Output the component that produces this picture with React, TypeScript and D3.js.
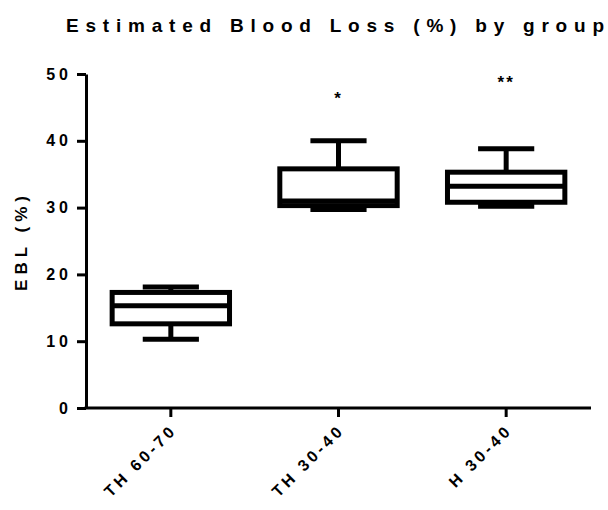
import React, { useRef, useEffect } from 'react';
import * as d3 from 'd3';

const groups = ['TH 60-70', 'TH 30-40', 'H 30-40'];
const mins = [10.3, 29.7, 30.2];
const q1s = [12.6, 30.3, 30.8];
const medians = [15.3, 31.0, 33.2];
const q3s = [17.3, 35.8, 35.3];
const maxs = [18.1, 40.0, 38.8];
const stars = ['', '*', '**'];
const starLevels = [0, 45.5, 47.9];
const yTicks = [0, 10, 20, 30, 40, 50];

const FONT = '"Liberation Sans", Arial, sans-serif';

const BoxChart = () => {
  const ref = useRef<SVGSVGElement | null>(null);

  useEffect(() => {
    if (!ref.current) return;
    const svg = d3.select(ref.current);
    svg.selectAll('*').remove();

    const x = d3.scalePoint<string>().domain(groups).range([87, 590]).padding(0.5);
    const y = d3.scaleLinear().domain([0, 50]).range([408, 74]);
    const step = x.step();
    const boxW = step * 0.7;
    const capW = step * 0.335;

    const rows = groups.map((g, i) => ({
      g, min: mins[i], q1: q1s[i], med: medians[i], q3: q3s[i], max: maxs[i], star: stars[i], sl: starLevels[i]
    }));

    // title
    svg.append('text')
      .attr('x', 66)
      .attr('y', 32)
      .attr('font-family', FONT)
      .attr('font-weight', 'bold')
      .attr('font-size', 19)
      .attr('textLength', 538)
      .attr('lengthAdjust', 'spacing')
      .text('Estimated Blood Loss (%) by group');

    // y axis
    const yAxis = svg.append('g')
      .attr('transform', 'translate(86,0)')
      .call(d3.axisLeft(y).tickValues(yTicks).tickSize(9).tickPadding(5).tickSizeOuter(0));
    yAxis.select('.domain').attr('stroke', '#000').attr('stroke-width', 3);
    yAxis.selectAll('.tick line').attr('stroke', '#000').attr('stroke-width', 3);
    yAxis.selectAll('.tick text')
      .attr('font-family', FONT)
      .attr('font-weight', 'bold')
      .attr('font-size', 16)
      .attr('letter-spacing', 4)
      .attr('fill', '#000');

    svg.append('text')
      .attr('transform', 'translate(27,241) rotate(-90)')
      .attr('text-anchor', 'middle')
      .attr('font-family', FONT)
      .attr('font-weight', 'bold')
      .attr('font-size', 17)
      .attr('letter-spacing', 5)
      .text('EBL (%)');

    // x axis
    svg.append('line')
      .attr('x1', 84.5).attr('x2', 591)
      .attr('y1', 408).attr('y2', 408)
      .attr('stroke', '#000').attr('stroke-width', 3);
    svg.selectAll('.xtick')
      .data(groups)
      .join('line')
      .attr('x1', d => x(d)!).attr('x2', d => x(d)!)
      .attr('y1', 408).attr('y2', 417)
      .attr('stroke', '#000').attr('stroke-width', 3);
    svg.selectAll('.xlabel')
      .data(groups)
      .join('text')
      .attr('transform', d => `translate(${x(d)! + 7},${431}) rotate(-45)`)
      .attr('text-anchor', 'end')
      .attr('font-family', FONT)
      .attr('font-weight', 'bold')
      .attr('font-size', 16)
      .attr('letter-spacing', 3.5)
      .text(d => d);

    // boxes
    const g = svg.append('g').attr('stroke', '#000').attr('stroke-width', 5).attr('fill', 'none');
    rows.forEach(r => {
      const cx = x(r.g)!;
      g.append('line').attr('x1', cx).attr('x2', cx).attr('y1', y(r.q3)).attr('y2', y(r.max));
      g.append('line').attr('x1', cx).attr('x2', cx).attr('y1', y(r.q1)).attr('y2', y(r.min));
      g.append('line').attr('x1', cx - capW / 2).attr('x2', cx + capW / 2).attr('y1', y(r.max)).attr('y2', y(r.max));
      g.append('line').attr('x1', cx - capW / 2).attr('x2', cx + capW / 2).attr('y1', y(r.min)).attr('y2', y(r.min));
      g.append('rect')
        .attr('x', cx - boxW / 2).attr('width', boxW)
        .attr('y', y(r.q3)).attr('height', y(r.q1) - y(r.q3))
        .attr('fill', '#fff');
      g.append('line').attr('x1', cx - boxW / 2).attr('x2', cx + boxW / 2).attr('y1', y(r.med)).attr('y2', y(r.med));
      if (r.star) {
        svg.append('text')
          .attr('x', cx)
          .attr('y', y(r.sl))
          .attr('text-anchor', 'middle')
          .attr('font-family', FONT)
          .attr('font-weight', 'bold')
          .attr('font-size', 17)
          .attr('letter-spacing', 2)
          .text(r.star);
      }
    });
  }, []);

  return <svg ref={ref} width={608} height={510} style={{ position: 'absolute', left: 0, top: 0, background: '#fff' }} />;
};

export default function App() {
  return <BoxChart />;
}
